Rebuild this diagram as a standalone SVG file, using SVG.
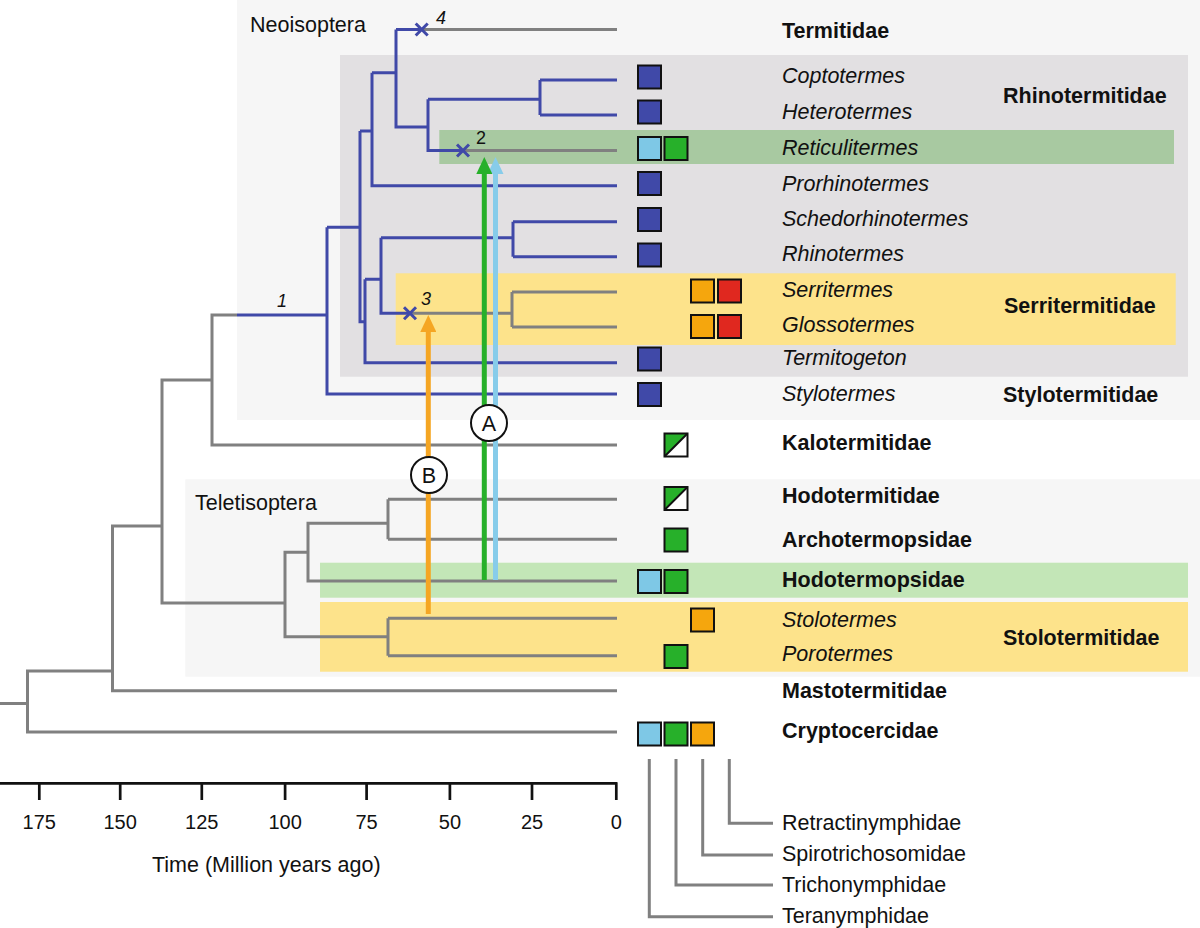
<svg xmlns="http://www.w3.org/2000/svg" width="1200" height="928" viewBox="0 0 1200 928">
<style>
text{font-family:"Liberation Sans",Arial,sans-serif;fill:#111}
.it{font-style:italic;font-size:21.5px}
.bd{font-weight:bold;font-size:21.5px}
.rg{font-size:21.5px}
.num{font-style:italic;font-size:18px}
.up{font-size:18px}
.ax{font-size:20px;text-anchor:middle}
.g{fill:none;stroke:#808080;stroke-width:3}
.b{fill:none;stroke:#4049a8;stroke-width:3}
.sq{stroke:#111;stroke-width:2}
.cb{fill:#4049a8}.cl{fill:#7ec8e6}.cg{fill:#27b02a}.co{fill:#f5a60d}.cr{fill:#e0281f}
.x{stroke:#4049a8;stroke-width:3}
</style>
<defs>
<marker id="hg" markerUnits="userSpaceOnUse" markerWidth="17" markerHeight="16" viewBox="0 -8 17 16" refX="0" refY="0" orient="auto"><path d="M0,-8 L17,0 L0,8 z" fill="#27b02a"/></marker>
<marker id="hl" markerUnits="userSpaceOnUse" markerWidth="17" markerHeight="16" viewBox="0 -8 17 16" refX="0" refY="0" orient="auto"><path d="M0,-8 L17,0 L0,8 z" fill="#87ccea"/></marker>
<marker id="ho" markerUnits="userSpaceOnUse" markerWidth="17" markerHeight="16" viewBox="0 -8 17 16" refX="0" refY="0" orient="auto"><path d="M0,-8 L17,0 L0,8 z" fill="#f5a623"/></marker>
</defs>
<rect width="1200" height="928" fill="#fff"/>
<g id="backgrounds">
<rect x="237" y="0" width="963" height="420" fill="#f6f6f6"/>
<rect x="340" y="55" width="848" height="321.7" fill="#e2e0e2"/>
<rect x="439.3" y="130" width="734.7" height="34" fill="#a8c9a1"/>
<rect x="395.7" y="273.3" width="780" height="71.7" fill="#fde38b"/>
<rect x="185.3" y="479.3" width="1014.7" height="197.4" fill="#f6f6f6"/>
<rect x="320" y="562.7" width="868" height="35" fill="#c3e6b7"/>
<rect x="320" y="602" width="868" height="69.7" fill="#fde38b"/>
</g>
<g id="connectors">
<path class="g" d="M0,703.5 H27.5 M112.5,671 H27.5 V732 H617 M162,526 H112.5 V690.7 H617 M212,380 H162 V603 H285 M237,315 H212 V445 H617"/>
<path class="g" d="M308,552.3 H285 V636.7 H388 M388,618.3 V655.7 M388,618.3 H617 M388,655.7 H617 M388,523.3 H308 V581 H617 M388,499.3 V539.3 M388,499.3 H617 M388,539.3 H617"/>
<path class="g" d="M421.7,29.5 H617 M463,150.5 H617 M410,313.3 H512 M512,292 V327 M512,292 H617 M512,327 H617"/>
<path class="b" d="M237,315 H327 M327,227.3 V394 H617 M327,227.3 H360 M360,131 V321.7 H365 M360,131 H372 M372,72.7 V185.7 H617 M372,72.7 H396 M396,29.5 V127 H428 M396,29.5 H421.7 M428,99.3 V150.5 H463 M428,99.3 H540 M540,80 V115 M540,80 H617 M540,115 H617"/>
<path class="b" d="M365,279.3 V362.7 H617 M365,279.3 H381 M381,237.7 V313.3 H410 M381,237.7 H513 M513,221.7 V256.7 M513,221.7 H617 M513,256.7 H617"/>
<path class="x" d="M415.7,23.5 L427.7,35.5 M427.7,23.5 L415.7,35.5 M457,144.5 L469,156.5 M469,144.5 L457,156.5 M404,307.3 L416,319.3 M416,307.3 L404,319.3"/>
<path class="g" d="M649.3,759 V916.7 H773 M676,759 V885 H773 M702.7,759 V855 H773 M729.3,759 V823.3 H773"/>
<line x1="495.5" y1="580" x2="495.5" y2="174" stroke="#87ccea" stroke-width="5" marker-end="url(#hl)"/>
<line x1="484.3" y1="580" x2="484.3" y2="174" stroke="#27b02a" stroke-width="5" marker-end="url(#hg)"/>
<line x1="428.3" y1="614" x2="428.3" y2="332" stroke="#f5a623" stroke-width="5" marker-end="url(#ho)"/>
</g>
<g id="marker-A"><circle cx="489" cy="423" r="18" fill="#fff" stroke="#111" stroke-width="2"/><text x="489" y="431" class="rg" text-anchor="middle">A</text></g>
<g id="marker-B"><circle cx="429" cy="475" r="18" fill="#fff" stroke="#111" stroke-width="2"/><text x="429" y="483" class="rg" text-anchor="middle">B</text></g>
<g id="node-labels">
<text x="436" y="24" class="num">4</text>
<text x="476" y="144" class="up">2</text>
<text x="421" y="305" class="num">3</text>
<text x="277" y="307" class="num">1</text>
<text x="250" y="32" class="rg">Neoisoptera</text>
<text x="195" y="510" class="rg">Teletisoptera</text>
</g>
<g id="Termitidae"><text x="782" y="37.5" class="bd">Termitidae</text></g>
<g id="Coptotermes"><rect class="sq cb" x="638" y="65.5" width="23" height="23"/><text x="782" y="82.7" class="it">Coptotermes</text></g>
<g id="Heterotermes"><rect class="sq cb" x="638" y="100.5" width="23" height="23"/><text x="782" y="119.3" class="it">Heterotermes</text></g>
<g id="Rhinotermitidae"><text x="1003" y="103.3" class="bd">Rhinotermitidae</text></g>
<g id="Reticulitermes"><rect class="sq cl" x="638" y="137" width="23" height="23"/><rect class="sq cg" x="664.5" y="137" width="23" height="23"/><text x="782" y="155" class="it">Reticulitermes</text></g>
<g id="Prorhinotermes"><rect class="sq cb" x="638" y="172" width="23" height="23"/><text x="782" y="190.7" class="it">Prorhinotermes</text></g>
<g id="Schedorhinotermes"><rect class="sq cb" x="638" y="208" width="23" height="23"/><text x="782" y="225.7" class="it">Schedorhinotermes</text></g>
<g id="Rhinotermes"><rect class="sq cb" x="638" y="243.5" width="23" height="23"/><text x="782" y="261" class="it">Rhinotermes</text></g>
<g id="Serritermes"><rect class="sq co" x="691" y="279.5" width="23" height="23"/><rect class="sq cr" x="718" y="279.5" width="23" height="23"/><text x="782" y="296.7" class="it">Serritermes</text></g>
<g id="Glossotermes"><rect class="sq co" x="691" y="315" width="23" height="23"/><rect class="sq cr" x="718" y="315" width="23" height="23"/><text x="782" y="331.7" class="it">Glossotermes</text></g>
<g id="Serritermitidae"><text x="1004" y="313.3" class="bd">Serritermitidae</text></g>
<g id="Termitogeton"><rect class="sq cb" x="638" y="347.5" width="23" height="23"/><text x="782" y="364.5" class="it">Termitogeton</text></g>
<g id="Stylotermes"><rect class="sq cb" x="638" y="383" width="23" height="23"/><text x="782" y="401" class="it">Stylotermes</text></g>
<g id="Stylotermitidae"><text x="1003" y="401.7" class="bd">Stylotermitidae</text></g>
<g id="Kalotermitidae"><rect x="664.5" y="433.5" width="23" height="23" fill="#fff"/><path d="M664.5,433.5 H687.5 L664.5,456.5 Z" class="cg"/><path d="M664.5,456.5 L687.5,433.5" stroke="#111" stroke-width="2"/><rect x="664.5" y="433.5" width="23" height="23" fill="none" class="sq"/><text x="782" y="450" class="bd">Kalotermitidae</text></g>
<g id="Hodotermitidae"><rect x="664.5" y="487" width="23" height="23" fill="#fff"/><path d="M664.5,487 H687.5 L664.5,510 Z" class="cg"/><path d="M664.5,510 L687.5,487" stroke="#111" stroke-width="2"/><rect x="664.5" y="487" width="23" height="23" fill="none" class="sq"/><text x="782" y="503.3" class="bd">Hodotermitidae</text></g>
<g id="Archotermopsidae"><rect class="sq cg" x="664.5" y="528.5" width="23" height="23"/><text x="782" y="547.3" class="bd">Archotermopsidae</text></g>
<g id="Hodotermopsidae"><rect class="sq cl" x="638" y="570" width="23" height="23"/><rect class="sq cg" x="664.5" y="570" width="23" height="23"/><text x="782" y="587.3" class="bd">Hodotermopsidae</text></g>
<g id="Stolotermes"><rect class="sq co" x="691" y="608.5" width="23" height="23"/><text x="782" y="627.3" class="it">Stolotermes</text></g>
<g id="Porotermes"><rect class="sq cg" x="664.5" y="645" width="23" height="23"/><text x="782" y="660.7" class="it">Porotermes</text></g>
<g id="Stolotermitidae"><text x="1003" y="645" class="bd">Stolotermitidae</text></g>
<g id="Mastotermitidae"><text x="782" y="698.3" class="bd">Mastotermitidae</text></g>
<g id="Cryptocercidae"><rect class="sq cl" x="638" y="722.5" width="23" height="23"/><rect class="sq cg" x="664.5" y="722.5" width="23" height="23"/><rect class="sq co" x="691" y="722.5" width="23" height="23"/><text x="782" y="738.3" class="bd">Cryptocercidae</text></g>
<g id="legend">
<text x="782" y="830" class="rg">Retractinymphidae</text>
<text x="782" y="861" class="rg">Spirotrichosomidae</text>
<text x="782" y="892" class="rg">Trichonymphidae</text>
<text x="782" y="923" class="rg">Teranymphidae</text>
</g>
<g id="axis">
<path d="M0,783.3 H617.5 M39.3,783 V800 M120.2,783 V800 M201.8,783 V800 M285.1,783 V800 M366.6,783 V800 M449.9,783 V800 M532,783 V800 M616.3,783 V800" stroke="#111" stroke-width="2.7" fill="none"/>
<text x="39.3" y="828.5" class="ax">175</text>
<text x="120.2" y="828.5" class="ax">150</text>
<text x="201.8" y="828.5" class="ax">125</text>
<text x="285.1" y="828.5" class="ax">100</text>
<text x="366.6" y="828.5" class="ax">75</text>
<text x="449.9" y="828.5" class="ax">50</text>
<text x="532" y="828.5" class="ax">25</text>
<text x="616.3" y="828.5" class="ax">0</text>
<text x="152" y="872" class="rg">Time (Million years ago)</text>
</g>
</svg>
